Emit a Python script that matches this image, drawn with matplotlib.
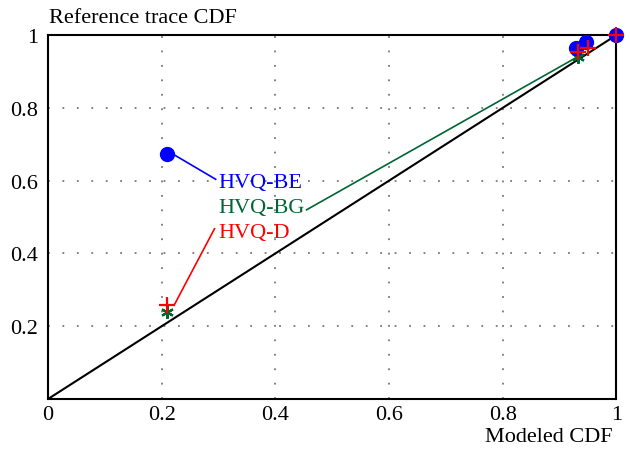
import matplotlib.pyplot as plt

plt.rcParams['font.family'] = ['Liberation Serif', 'DejaVu Serif']

# CDF pairs (modeled, reference)
be_x = [0.21, 0.93, 0.947, 1.0]
be_y = [0.673, 0.966, 0.98, 1.0]
d_x = [0.21, 0.932, 0.95, 1.0]
d_y = [0.258, 0.955, 0.966, 1.0]
bg_x = [0.21, 0.932, 1.0]
bg_y = [0.24, 0.94, 1.0]

labels = ['HVQ-BE', 'HVQ-BG', 'HVQ-D']
label_y = [0.594, 0.525, 0.458]
label_x = 0.30

fig = plt.figure(figsize=(6.3, 4.52), dpi=100)
ax = fig.add_axes([0.0762, 0.115, 0.902, 0.805])
ax.set_xlim(0, 1)
ax.set_ylim(0, 1)

ax.plot([0, 1], [0, 1], color='black', lw=1.5, zorder=2)

blue, green, red = '#0000ff', '#006633', '#ff0000'
ax.plot(bg_x, bg_y, ls='none', marker=(6, 2, 0), ms=9, mew=1.6, color=green,
        zorder=3, clip_on=False)
ax.plot(be_x, be_y, ls='none', marker='o', ms=10, color=blue, zorder=3, clip_on=False)
ax.plot(d_x, d_y, ls='none', marker='+', ms=11, mew=1.6, color=red, zorder=4,
        clip_on=False)

# labels with leader lines
ax.text(label_x, label_y[0], labels[0], color=blue, fontsize=16, va='center', ha='left')
ax.plot([be_x[0] + 0.01, label_x - 0.005], [be_y[0], label_y[0] + 0.01], color=blue, lw=1.2)
ax.text(label_x, label_y[1], labels[1], color=green, fontsize=16, va='center', ha='left')
ax.plot([0.455, bg_x[1] + 0.005], [label_y[1] - 0.005, bg_y[1] + 0.005], color=green, lw=1.2)
ax.text(label_x, label_y[2], labels[2], color=red, fontsize=16, va='center', ha='left')
ax.plot([d_x[0] + 0.012, 0.293], [d_y[0], label_y[2] + 0.01], color=red, lw=1.2)

ax.set_xticks([0, 0.2, 0.4, 0.6, 0.8, 1])
ax.set_xticklabels(['0', '0.2', '0.4', '0.6', '0.8', '1'])
ax.set_yticks([0.2, 0.4, 0.6, 0.8, 1])
ax.set_yticklabels(['0.2', '0.4', '0.6', '0.8', '1'])
ax.tick_params(length=0, labelsize=16)
ax.tick_params(axis='x', pad=4)
ax.tick_params(axis='y', pad=7)
ax.grid(True, color='#777777', ls=(0, (1, 7)), lw=1.3)
for s in ax.spines.values():
    s.set_linewidth(1.5)

fig.text(0.078, 0.958, 'Reference trace CDF', fontsize=16, ha='left', va='center')
fig.text(0.973, 0.032, 'Modeled CDF', fontsize=16, ha='right', va='center')

fig.savefig('out.png', dpi=100)
